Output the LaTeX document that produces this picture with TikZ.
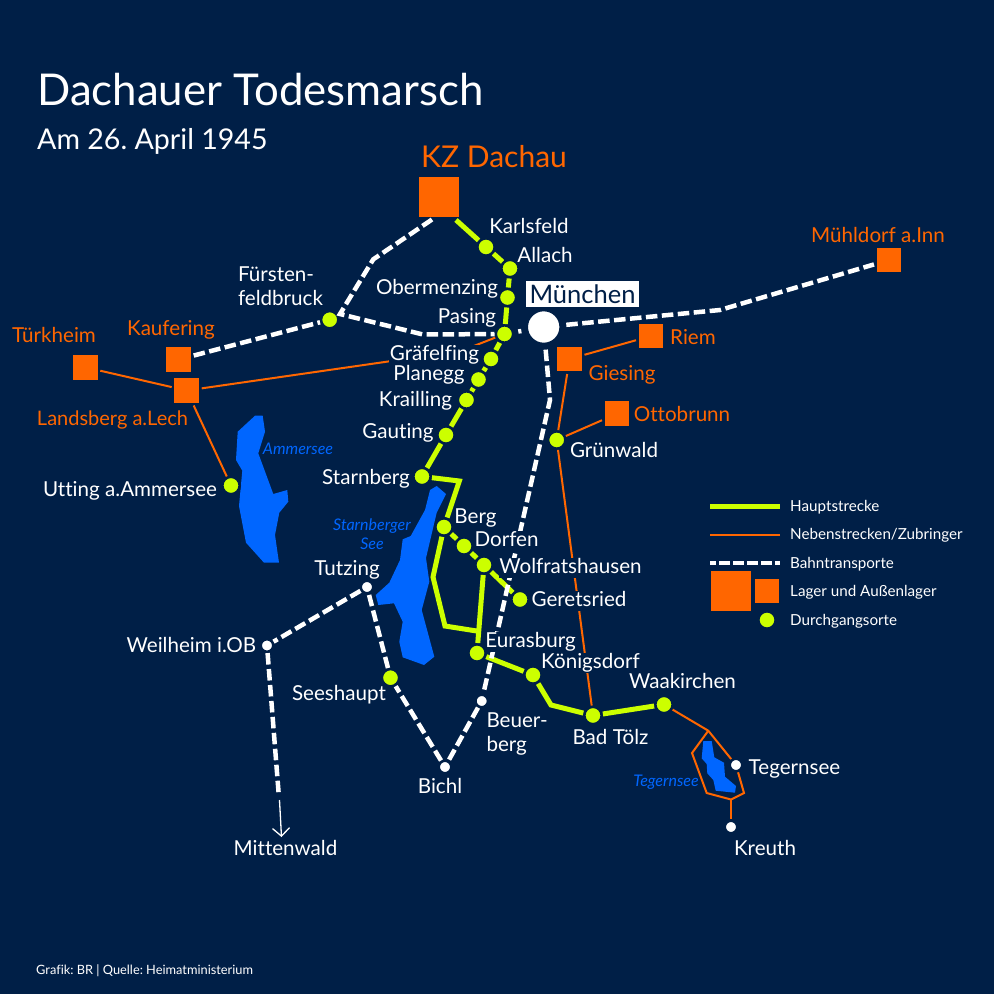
\documentclass[tikz,border=0pt]{standalone}
\usepackage{fontspec}
\setmainfont{Lato}[Ligatures=NoCommon]
\usetikzlibrary{arrows.meta}
\definecolor{mapbg}{HTML}{001F47}
\definecolor{routelime}{HTML}{CCFF00}
\definecolor{camporange}{HTML}{FF6600}
\definecolor{lakeblue}{HTML}{0066FF}
\tikzset{
  stopdot/.style={circle,fill=routelime,draw=mapbg,line width=2.6pt,minimum size=17.4pt,inner sep=0pt},
  whitedot/.style={circle,fill=white,draw=mapbg,line width=2.6pt,minimum size=12.6pt,inner sep=0pt},
  camp/.style={rectangle,fill=camporange,draw=mapbg,line width=2.6pt,minimum size=27.4pt,inner sep=0pt},
  bigcamp/.style={camp,minimum size=42pt},
  mainroute/.style={draw=routelime,line width=5pt},
  sideroute/.style={draw=camporange,line width=2pt},
  railway/.style={draw=white,line width=4.5pt,dash pattern=on 11.5pt off 4.5pt},
  lake/.style={fill=lakeblue,draw=none},
  townlabel/.style={font=\fontsize{20.6}{24}\selectfont,text=white,fill=mapbg,inner sep=0.8pt,text height=14pt,text depth=4pt,yshift=-2pt},
  camplabel/.style={townlabel,text=camporange},
  lakelabel/.style={font=\fontsize{16}{19}\selectfont\itshape,text=lakeblue,inner sep=0pt},
  legendlabel/.style={font=\fontsize{15.2}{17}\selectfont,text=white,anchor=west,inner sep=0pt}
}
\begin{document}
\frenchspacing
\begin{tikzpicture}[x=1pt,y=-1pt]
\fill[mapbg] (0,0) rectangle (994,994);
\useasboundingbox (0,0) rectangle (994,994);

\fill[lake] (255,415.7) -- (262.7,415.7) -- (265,431.7) -- (258.3,453.3) -- (273.3,494) -- (287.3,490) -- (288.3,501.7) -- (279.3,512.7) -- (275,535) -- (279,562.7) -- (264,562.7) -- (246,542.7) -- (239,506) -- (242.3,470.7) -- (236,460) -- (237.7,431.7) -- cycle;
\fill[lake] (436.7,486) -- (446,494) -- (436.7,512.7) -- (426,558) -- (429.3,581.7) -- (421.7,610) -- (434.3,656.7) -- (424,665) -- (402.7,657.3) -- (399.3,641.7) -- (402.7,621.7) -- (394,603.3) -- (378.3,605) -- (375.7,595) -- (389.3,582.7) -- (400,560) -- (402.7,539.3) -- (410.7,536) -- (425,510) -- (430,490) -- cycle;
\fill[lake] (703.3,741) -- (711.7,741) -- (714.3,757.3) -- (724,762.7) -- (725,776.7) -- (736,786) -- (735,792.7) -- (715.7,790.7) -- (713.3,780) -- (707.3,773.3) -- (706.7,764) -- (701.7,758.3) -- cycle;

\node[bigcamp] (kzDachau) at (439,197) {};
\node[camp] (muehldorf) at (889,260) {};
\node[camp] (riem) at (651,336) {};
\node[camp] (giesing) at (569.5,359) {};
\node[camp] (ottobrunn) at (617,413.7) {};
\node[camp] (tuerkheim) at (85.3,367.3) {};
\node[camp] (kaufering) at (178.7,359.5) {};
\node[camp] (landsberg) at (186.7,390.5) {};

\node[stopdot] (karlsfeld) at (486,247) {};
\node[stopdot] (allach) at (510,268.5) {};
\node[stopdot] (obermenzing) at (507.5,297.5) {};
\node[stopdot] (pasing) at (504.5,334) {};
\node[stopdot] (graefelfing) at (491,359) {};
\node[stopdot] (planegg) at (478.5,379.5) {};
\node[stopdot] (krailling) at (466.5,400) {};
\node[stopdot] (gauting) at (446,435) {};
\node[stopdot] (starnberg) at (422,476.5) {};
\node[stopdot] (berg) at (444,527) {};
\node[stopdot] (dorfen) at (464,546) {};
\node[stopdot] (wolfratshausen) at (484,565) {};
\node[stopdot] (geretsried) at (520,599.5) {};
\node[stopdot] (eurasburg) at (477,653) {};
\node[stopdot] (koenigsdorf) at (533,675) {};
\node[stopdot] (badtoelz) at (593,715.5) {};
\node[stopdot] (waakirchen) at (664,704.5) {};
\node[stopdot] (fuerstenfeldbruck) at (329.7,319.7) {};
\node[stopdot] (utting) at (231,485.5) {};
\node[stopdot] (gruenwald) at (556.7,440) {};
\node[stopdot] (seeshaupt) at (390.5,677.7) {};

\node[whitedot] (tutzing) at (367,587) {};
\node[whitedot] (weilheim) at (267,645.5) {};
\node[whitedot] (bichl) at (445,767) {};
\node[whitedot] (beuerberg) at (481.7,701) {};
\node[whitedot] (tegernsee) at (736,765) {};
\node[whitedot] (kreuth) at (731,827) {};
\node[circle,fill=white,draw=mapbg,line width=7pt,minimum size=38.4pt,inner sep=0pt] (muenchen) at (543.7,327) {};

\coordinate (kzEast) at (456,220);
\coordinate (kzWest) at (432,219.5);
\coordinate (ffbBend) at (373.3,259.3);
\coordinate (ffbCorner) at (340,314);
\coordinate (pasingBend) at (423,334.5);
\coordinate (graefelfingBend) at (461,351);
\coordinate (starnbergBend) at (459.3,481);
\coordinate (bergBendA) at (433,577);
\coordinate (bergBendB) at (445,626);
\coordinate (bergJoin) at (476.7,631);
\coordinate (toelzBend) at (551,705);
\coordinate (muehldorfBend) at (720,310);
\coordinate (beuerbergBend) at (550,400);
\coordinate (mittenwaldBreak) at (278.7,794);
\coordinate (mittenwaldArrowStart) at (279.5,800);
\coordinate (mittenwaldArrowEnd) at (281.5,837);
\coordinate (lakeTop) at (708.3,730.7);
\coordinate (lakeEast) at (744,793);
\coordinate (lakeSouth) at (731,799.5);
\coordinate (lakeSouthWest) at (706.7,793);
\coordinate (lakeWest) at (692,753);

\draw[mainroute] (kzEast) -- (karlsfeld);
\draw[mainroute] (karlsfeld) -- (allach);
\draw[mainroute] (allach) -- (obermenzing);
\draw[mainroute] (obermenzing) -- (pasing);
\draw[mainroute] (pasing) -- (graefelfing);
\draw[mainroute] (graefelfing) -- (planegg);
\draw[mainroute] (planegg) -- (krailling);
\draw[mainroute] (krailling) -- (gauting);
\draw[mainroute] (gauting) -- (starnberg);
\draw[mainroute] (starnberg) -- (starnbergBend) -- (berg);
\draw[mainroute] (berg) -- (dorfen);
\draw[mainroute] (dorfen) -- (wolfratshausen);
\draw[mainroute] (wolfratshausen) -- (geretsried);
\draw[mainroute] (wolfratshausen) -- (eurasburg);
\draw[mainroute] (berg) -- (bergBendA) -- (bergBendB) -- (bergJoin);
\draw[mainroute] (eurasburg) -- (koenigsdorf);
\draw[mainroute] (koenigsdorf) -- (toelzBend) -- (badtoelz);
\draw[mainroute] (badtoelz) -- (waakirchen);

\draw[sideroute] (tuerkheim) -- (landsberg);
\draw[sideroute] (landsberg) -- (graefelfingBend) -- (pasing);
\draw[sideroute] (landsberg) -- (utting);
\draw[sideroute] (riem) -- (giesing);
\draw[sideroute] (giesing) -- (gruenwald);
\draw[sideroute] (ottobrunn) -- (gruenwald);
\draw[sideroute] (gruenwald) -- (badtoelz);
\draw[sideroute] (waakirchen) -- (lakeTop) -- (tegernsee);
\draw[sideroute] (tegernsee) -- (lakeEast) -- (lakeSouth) -- (lakeSouthWest) -- (lakeWest) -- (lakeTop);
\draw[sideroute] (lakeSouth) -- (kreuth);

\draw[railway] (kzWest) -- (ffbBend) -- (ffbCorner) -- (pasingBend) -- (pasing);
\draw[railway] (kaufering) -- (fuerstenfeldbruck);
\draw[railway,dash pattern=on 0pt off 4pt on 4pt off 30pt] (pasing) -- (muenchen);
\draw[railway] (muenchen) -- (muehldorfBend) -- (muehldorf);
\draw[railway] (muenchen) -- (beuerbergBend) -- (beuerberg);
\draw[railway] (beuerberg) -- (bichl);
\draw[railway] (bichl) -- (seeshaupt);
\draw[railway] (seeshaupt) -- (tutzing);
\draw[railway] (tutzing) -- (weilheim);
\draw[railway] (weilheim) -- (mittenwaldBreak);
\draw[white,line width=1.3pt,-{Straight Barb[length=8pt,width=17pt]}] (mittenwaldArrowStart) -- (mittenwaldArrowEnd);

\node[anchor=base west,inner sep=0pt,text=white,font=\fontsize{43.8}{50}\selectfont] (title) at (37,105) {Dachauer Todesmarsch};
\node[anchor=base west,inner sep=0pt,text=white,font=\fontsize{28.6}{32}\selectfont] (subtitle) at (37,149) {Am 26. April 1945};
\node[anchor=base west,inner sep=0pt,text=camporange,font=\fontsize{30}{32}\selectfont] (kzLabel) at (421,167) {KZ Dachau};

\node[camplabel] (muehldorfLabel) at (878,235) {Mühldorf a.Inn};
\node[camplabel] (riemLabel) at (693,337) {Riem};
\node[camplabel] (giesingLabel) at (622,373) {Giesing};
\node[camplabel] (ottobrunnLabel) at (682,414) {Ottobrunn};
\node[camplabel] (tuerkheimLabel) at (54,335) {Türkheim};
\node[camplabel] (kauferingLabel) at (171,328) {Kaufering};
\node[camplabel,font=\fontsize{20}{24}\selectfont] (landsbergLabel) at (112.5,418) {Landsberg a.Lech};

\node[townlabel] (karlsfeldLabel) at (529,226) {Karlsfeld};
\node[townlabel] (allachLabel) at (545,255) {Allach};
\node[townlabel] (obermenzingLabel) at (437,287) {Obermenzing};
\node[townlabel] (pasingLabel) at (467,316) {Pasing};
\node[townlabel] (graefelfingLabel) at (434.5,353) {Gräfelfing};
\node[townlabel] (planeggLabel) at (429,373) {Planegg};
\node[townlabel] (kraillingLabel) at (415.5,399) {Krailling};
\node[townlabel] (gautingLabel) at (398,431) {Gauting};
\node[townlabel] (starnbergLabel) at (366,477) {Starnberg};
\node[townlabel] (bergLabel) at (475.5,516) {Berg};
\node[townlabel] (dorfenLabel) at (506.5,539) {Dorfen};
\node[townlabel] (wolfratshausenLabel) at (570.5,566) {Wolfratshausen};
\node[townlabel] (geretsriedLabel) at (579,599) {Geretsried};
\node[townlabel] (eurasburgLabel) at (530.5,640) {Eurasburg};
\node[townlabel] (koenigsdorfLabel) at (590.5,661) {Königsdorf};
\node[townlabel] (waakirchenLabel) at (682.5,681) {Waakirchen};
\node[townlabel] (badtoelzLabel) at (610.5,737) {Bad Tölz};
\node[townlabel] (bichlLabel) at (440,786) {Bichl};
\node[townlabel] (tutzingLabel) at (347,568) {Tutzing};
\node[townlabel] (seeshauptLabel) at (339,693) {Seeshaupt};
\node[townlabel] (weilheimLabel) at (191.5,645) {Weilheim i.OB};
\node[townlabel] (mittenwaldLabel) at (285.5,848) {Mittenwald};
\node[townlabel] (tegernseeLabel) at (794.5,767) {Tegernsee};
\node[townlabel] (kreuthLabel) at (765,848) {Kreuth};
\node[townlabel] (uttingLabel) at (130,489) {Utting a.Ammersee};
\node[townlabel] (gruenwaldLabel) at (614,450) {Grünwald};
\node[townlabel,text height=,text depth=,fill=none,align=left,anchor=west] (fuerstenLabel) at (237,284) {Fürsten-\\feldbruck};
\node[townlabel,text height=,text depth=,fill=none,align=left,anchor=west] (beuerbergLabel) at (485.5,732) {Beuer-\\berg};
\node[rectangle,fill=white,text=mapbg,font=\fontsize{25.5}{28}\selectfont,minimum width=113pt,minimum height=26.6pt,inner sep=0pt] (muenchenLabel) at (582.5,294) {München};

\node[lakelabel] (ammerseeLabel) at (298,449) {Ammersee};
\node[lakelabel,align=center] (starnbergerLabel) at (372,534) {Starnberger\\See};
\node[lakelabel] (tegernseeLakeLabel) at (666,782) {Tegernsee};

\coordinate (legendMainA) at (710,506);
\coordinate (legendMainB) at (780,506);
\coordinate (legendSideA) at (710,534.5);
\coordinate (legendSideB) at (780,534.5);
\coordinate (legendRailA) at (710,563);
\coordinate (legendRailB) at (780,563);
\draw[mainroute] (legendMainA) -- (legendMainB);
\draw[sideroute] (legendSideA) -- (legendSideB);
\draw[railway,line width=4.2pt,dash pattern=on 6pt off 3pt on 11pt off 3pt on 11pt off 3pt on 11pt off 3pt on 11pt off 3pt on 5pt off 3pt] (legendRailA) -- (legendRailB);
\node[bigcamp] (legendBigCamp) at (731,591) {};
\node[camp] (legendCamp) at (767,591) {};
\node[stopdot] (legendStop) at (767,620) {};
\node[legendlabel] (legendMainLabel) at (790,507.5) {Hauptstrecke};
\node[legendlabel] (legendSideLabel) at (790,535.5) {Nebenstrecken/Zubringer};
\node[legendlabel] (legendRailLabel) at (790,564) {Bahntransporte};
\node[legendlabel] (legendCampLabel) at (790,592.5) {Lager und Außenlager};
\node[legendlabel] (legendStopLabel) at (790,621) {Durchgangsorte};

\node[anchor=west,inner sep=0pt,text=white,font=\fontsize{12.8}{15}\selectfont] (sourceLabel) at (36,970.5) {Grafik: BR | Quelle: Heimatministerium};
\end{tikzpicture}
\end{document}
